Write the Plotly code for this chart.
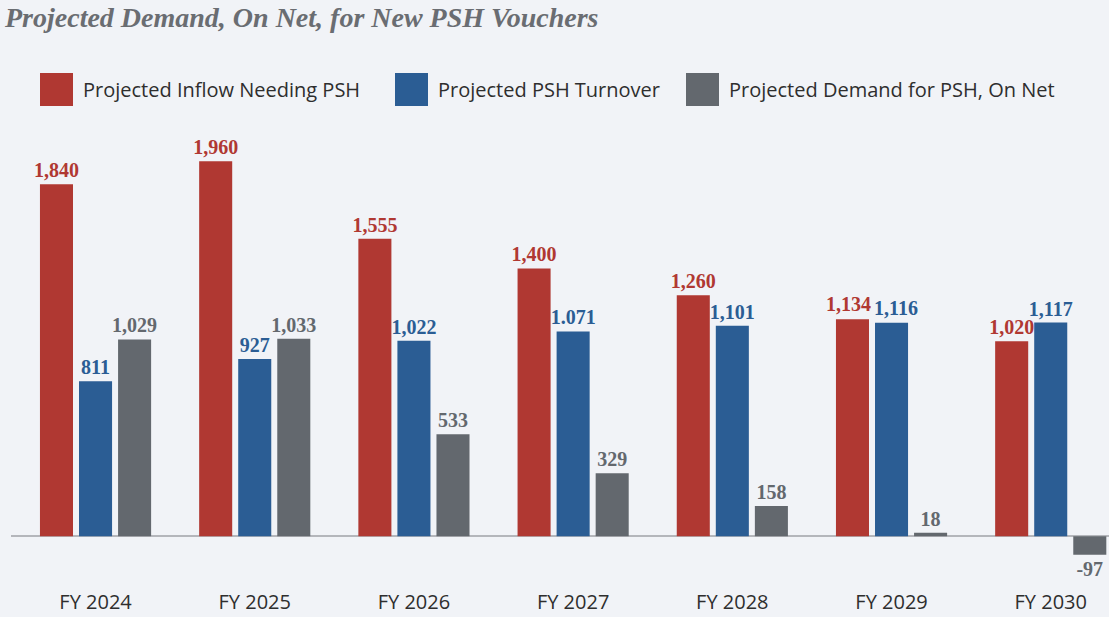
import plotly.graph_objects as go

# ---------------------------------------------------------------------------
# Data
# ---------------------------------------------------------------------------
years = ["FY 2024", "FY 2025", "FY 2026", "FY 2027", "FY 2028", "FY 2029", "FY 2030"]
inflow = [1840, 1960, 1555, 1400, 1260, 1134, 1020]
turnover = [811, 927, 1022, 1071, 1101, 1116, 1117]
net_demand = [1029, 1033, 533, 329, 158, 18, -97]

# labels as printed (FY 2027 turnover is printed with a period in the source)
inflow_labels = [f"{v:,}" for v in inflow]
turnover_labels = ["811", "927", "1,022", "1.071", "1,101", "1,116", "1,117"]
net_labels = [f"{v:,}" for v in net_demand]

series_names = ["Projected Inflow Needing PSH", "Projected PSH Turnover",
                "Projected Demand for PSH, On Net"]
RED, BLUE, GRAY = "#B03832", "#2B5D94", "#63686E"
BG = "#F1F3F7"

W, H = 1109, 617
ML, MR, MT, MB = 11, 0, 125, 31
BARGAP, GROUPGAP = 0.264, 0.154
XRANGE = [-0.531, 6.366]


def px_x(x):
    return (x - ML) / (W - ML - MR)


def px_y(y):
    return (H - MB - y) / (H - MT - MB)


label_font = dict(family="Liberation Serif", size=20, weight="bold")

# FY 2029 red/blue labels nearly touch: in the source they are nudged apart,
# so draw those two as annotations instead of bar text
crowded = years.index("FY 2029")
slot_px = (W - ML - MR) / (XRANGE[1] - XRANGE[0]) * (1 - BARGAP) / 3

fig = go.Figure()
for k, (name, vals, color, labels) in enumerate([
    (series_names[0], inflow, RED, inflow_labels),
    (series_names[1], turnover, BLUE, turnover_labels),
    (series_names[2], net_demand, GRAY, net_labels),
]):
    bar_text = [("" if (i == crowded and k < 2) else t) for i, t in enumerate(labels)]
    fig.add_trace(go.Bar(
        x=years, y=vals, name=name,
        marker=dict(color=color, line=dict(width=0)),
        text=bar_text, textposition="outside", textangle=0,
        constraintext="none", cliponaxis=False,
        textfont=dict(color=color, **label_font),
        showlegend=False,
    ))

annotations = []
for k, (vals, labels, color, nudge) in enumerate([
    (inflow, inflow_labels, RED, -4),
    (turnover, turnover_labels, BLUE, 4),
]):
    annotations.append(dict(
        x=years[crowded], y=vals[crowded], xref="x", yref="y",
        text=labels[crowded], showarrow=False,
        xanchor="center", yanchor="bottom",
        xshift=(k - 1) * slot_px + nudge, yshift=2,
        font=dict(color=color, **label_font),
    ))

# hand-drawn legend with large square swatches
legend_items = [(series_names[0], RED, 40), (series_names[1], BLUE, 395),
                (series_names[2], GRAY, 686)]
shapes = []
for name, color, x0 in legend_items:
    shapes.append(dict(type="rect", xref="paper", yref="paper",
                       x0=px_x(x0), x1=px_x(x0 + 33), y0=px_y(106), y1=px_y(73),
                       fillcolor=color, line=dict(width=0)))
    annotations.append(dict(text=name, xref="paper", yref="paper",
                            x=px_x(x0 + 41), y=px_y(89), xanchor="left", yanchor="middle",
                            showarrow=False,
                            font=dict(family="Open Sans", size=20, color="#2E2E2E")))

fig.update_layout(
    width=W, height=H,
    margin=dict(l=ML, r=MR, t=MT, b=MB),
    paper_bgcolor=BG, plot_bgcolor=BG,
    barmode="group", bargap=BARGAP, bargroupgap=GROUPGAP,
    title=dict(text="<i><b>Projected Demand, On Net, for New PSH Vouchers</b></i>",
               xref="container", yref="container", x=5 / W, y=1 - 17 / H,
               xanchor="left", yanchor="middle",
               font=dict(family="Liberation Serif", size=28, color="#6A6D72")),
    shapes=shapes, annotations=annotations,
    showlegend=False,
)

fig.update_xaxes(range=XRANGE, showgrid=False, showline=False, ticks="",
                 ticklabelstandoff=2,
                 tickfont=dict(family="Open Sans", size=20, color="#2E2E2E"))
fig.update_yaxes(range=[-260, 2150], showgrid=False, showticklabels=False,
                 zeroline=True, zerolinecolor="#B4B6BB", zerolinewidth=2)

# drop the browser's default page margin so the figure fills the window
fig.write_html("out.html",
               config={"displayModeBar": False},
               post_script="document.body.style.margin='0';"
                           "document.body.style.background='#F1F3F7';")
